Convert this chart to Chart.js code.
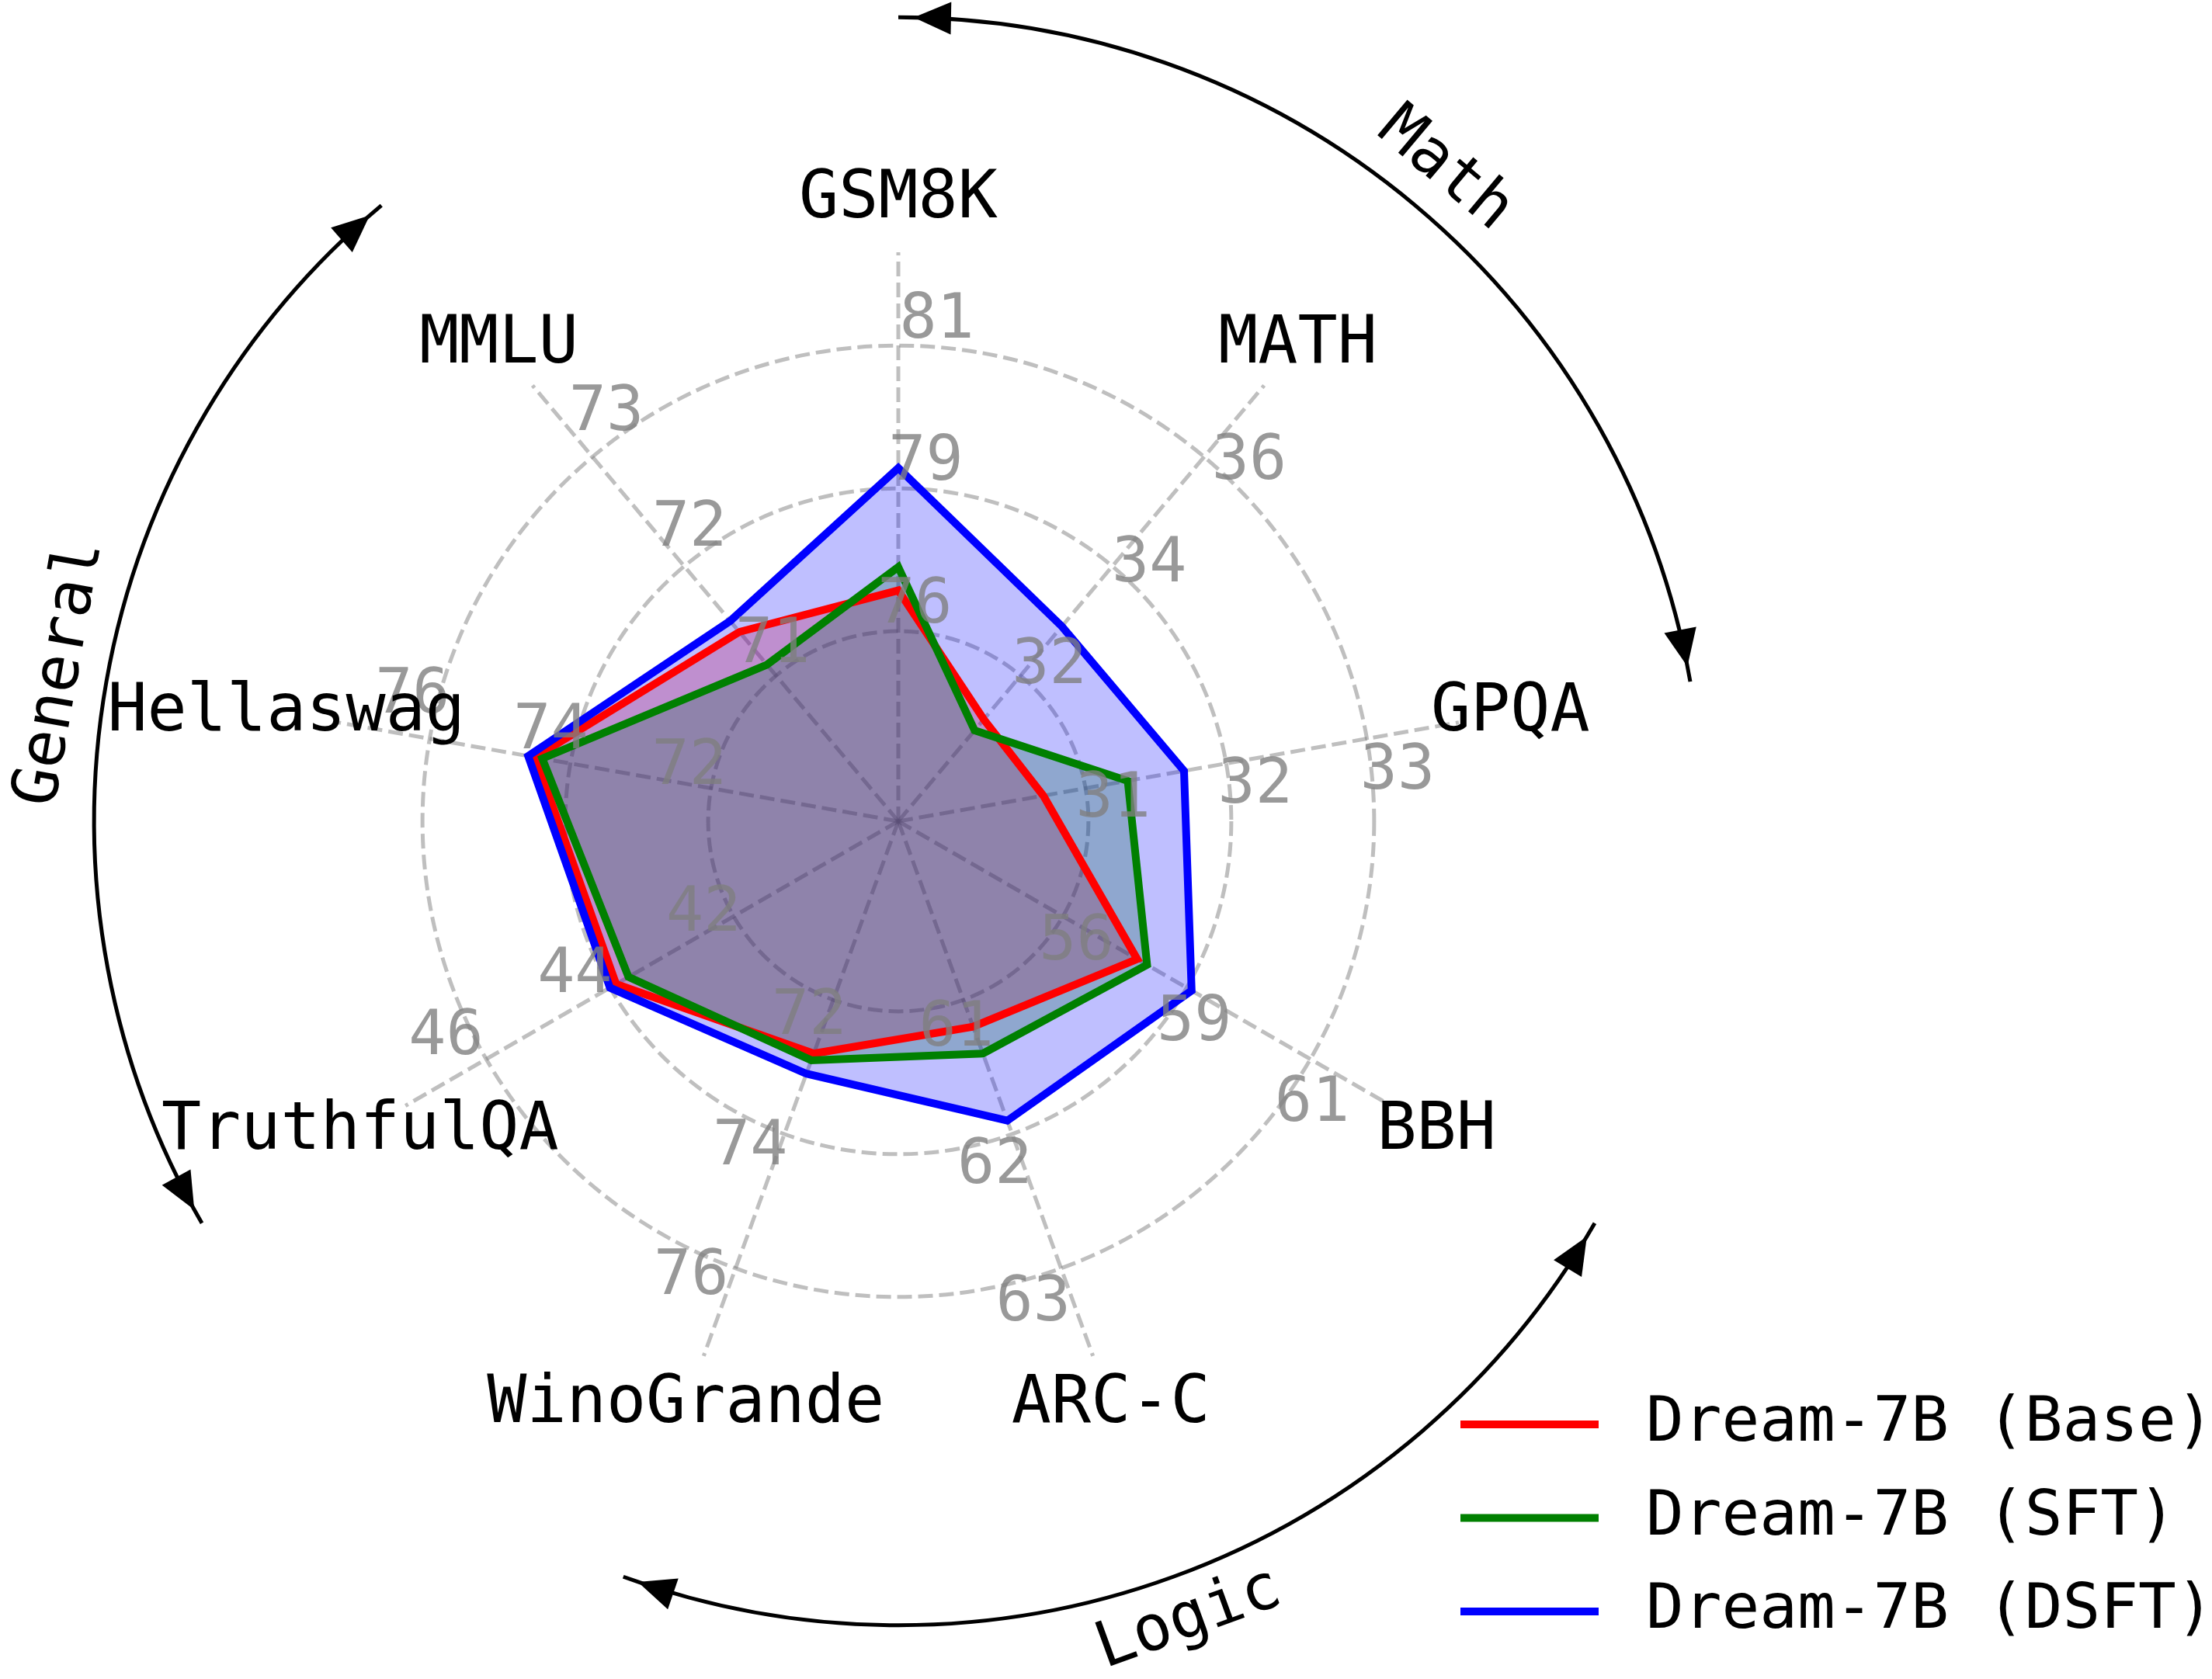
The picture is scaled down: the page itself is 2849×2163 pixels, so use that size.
<!DOCTYPE html>
<html>
<head>
<meta charset="utf-8">
<script src="https://cdn.jsdelivr.net/npm/chart.js@4"></script>
<style>
  html, body { margin: 0; padding: 0; background: #fff; }
  canvas { display: block; }
</style>
</head>
<body>
<canvas id="radar" width="2849" height="2163"></canvas>
<script>
// axes, clockwise from the top
const benchmarks = ['GSM8K', 'MATH', 'GPQA', 'BBH', 'ARC-C', 'WinoGrande', 'TruthfulQA', 'Hellaswag', 'MMLU'];

const baseScores = [76.9, 31.2, 30.7, 57.8, 61.2, 72.8, 43.9, 74.5, 71.4];
const sftScores  = [77.3, 31.0, 31.3, 58.0, 61.4, 72.9, 43.7, 74.4, 71.1];
const dsftScores = [79.0, 32.9, 31.7, 58.9, 61.9, 73.1, 44.0, 74.6, 71.5];

// every axis has its own scale: value on the first ring and step between rings
const ringStart = [76.2, 32, 31, 56.3, 61, 72, 42, 72, 71];
const ringStep  = [2.45, 2, 1, 2.5, 1, 2, 2, 2, 1];
const ringLabels = [
  ['76', '79', '81'],
  ['32', '34', '36'],
  ['31', '32', '33'],
  ['56', '59', '61'],
  ['61', '62', '63'],
  ['72', '74', '76'],
  ['42', '44', '46'],
  ['72', '74', '76'],
  ['71', '72', '73']
];

const seriesNames = ['Dream-7B (Base)', 'Dream-7B (SFT)', 'Dream-7B (DSFT)'];

// groups of axes marked by the outer arrows
const groupNames = ['Math', 'Logic', 'General'];
const groupMembers = [[0, 1, 2], [3, 4, 5], [6, 7, 8]];

// value -> ring units (ring k sits at k)
const toRing = (v, i) => 1 + (v - ringStart[i]) / ringStep[i];

const FONT = "'DejaVu Sans Mono', monospace";
Chart.defaults.font.family = FONT;

const deg = Math.PI / 180;

const overlay = {
    id: 'overlay',
    afterDatasetsDraw(chart) {
        const ctx = chart.ctx;
        const r = chart.scales.r;
        const cx = r.xCenter, cy = r.yCenter;
        ctx.save();
        ctx.textAlign = 'center';
        ctx.textBaseline = 'middle';

        // ring values along each axis
        ctx.font = '80px ' + FONT;
        ctx.fillStyle = 'rgba(128,128,128,0.8)';
        benchmarks.forEach((name, i) => {
            ringLabels[i].forEach((txt, k) => {
                const p = r.getPointPosition(i, r.getDistanceFromCenterForValue(k + 1.18), 4.4 * deg);
                ctx.fillText(txt, p.x, p.y);
            });
        });

        // axis names
        ctx.font = '85px ' + FONT;
        ctx.fillStyle = '#000';
        benchmarks.forEach((name, i) => {
            const p = r.getPointPosition(i, r.drawingArea * 1.092);
            ctx.fillText(name, p.x, p.y);
        });

        // group arcs with arrow heads
        const arcR = r.drawingArea * 1.413;
        const headLen = 48, headHalf = 21;
        const head = (a, sign) => {
            const tx = cx + arcR * Math.cos(a), ty = cy + arcR * Math.sin(a);
            const dx = -Math.sin(a) * sign, dy = Math.cos(a) * sign;
            const bx = tx - dx * headLen, by = ty - dy * headLen;
            ctx.beginPath();
            ctx.moveTo(tx, ty);
            ctx.lineTo(bx - dy * headHalf, by + dx * headHalf);
            ctx.lineTo(bx + dy * headHalf, by - dx * headHalf);
            ctx.closePath();
            ctx.fill();
        };
        ctx.strokeStyle = '#000';
        ctx.lineWidth = 5;
        groupNames.forEach((g, k) => {
            const m = groupMembers[k];
            const a0 = r.getIndexAngle(m[0]) - Math.PI / 2;
            const a1 = a0 + (m.length - 1) * (2 * Math.PI / benchmarks.length);
            ctx.beginPath();
            ctx.arc(cx, cy, arcR, a0, a1);
            ctx.stroke();
            head(a0 + 1.1 * deg, -1);
            head(a1 - 1.1 * deg, 1);

            const am = (a0 + a1) / 2;
            let rot = am + Math.PI / 2;
            while (rot > Math.PI) rot -= 2 * Math.PI;
            while (rot < -Math.PI) rot += 2 * Math.PI;
            if (rot > Math.PI / 2) rot -= Math.PI;
            if (rot < -Math.PI / 2) rot += Math.PI;
            const lr = r.drawingArea * 1.494;
            ctx.save();
            ctx.translate(cx + lr * Math.cos(am), cy + lr * Math.sin(am));
            ctx.rotate(rot);
            ctx.font = '82px ' + FONT;
            ctx.fillText(g, 0, 0);
            ctx.restore();
        });

        // legend
        ctx.font = '81px ' + FONT;
        ctx.textAlign = 'left';
        chart.data.datasets.forEach((ds, k) => {
            const y = 1835 + k * 120.5;
            ctx.strokeStyle = ds.borderColor;
            ctx.lineWidth = 10;
            ctx.beginPath();
            ctx.moveTo(1881, y);
            ctx.lineTo(2059, y);
            ctx.stroke();
            ctx.fillStyle = '#000';
            ctx.fillText(ds.label, 2120, y);
        });
        ctx.restore();
    }
};

new Chart(document.getElementById('radar'), {
    type: 'radar',
    data: {
        labels: benchmarks,
        datasets: [
            {
                label: seriesNames[0],
                data: baseScores.map(toRing),
                borderColor: 'rgb(255,0,0)',
                backgroundColor: 'rgba(255,0,0,0.25)',
                fill: 'start',
                order: 3
            },
            {
                label: seriesNames[1],
                data: sftScores.map(toRing),
                borderColor: 'rgb(0,128,0)',
                backgroundColor: 'rgba(0,128,0,0.25)',
                fill: 'start',
                order: 2
            },
            {
                label: seriesNames[2],
                data: dsftScores.map(toRing),
                borderColor: 'rgb(0,0,255)',
                backgroundColor: 'rgba(0,0,255,0.25)',
                fill: 'start',
                order: 1
            }
        ]
    },
    options: {
        responsive: false,
        animation: false,
        layout: {
            padding: { left: 424, right: 959, top: 325, bottom: 372 }
        },
        elements: {
            line: { borderWidth: 10, tension: 0, borderJoinStyle: 'miter' },
            point: { radius: 0, hoverRadius: 0 }
        },
        plugins: {
            legend: { display: false },
            tooltip: { enabled: false },
            // all fills first, lines on top of them
            filler: { drawTime: 'beforeDatasetsDraw' }
        },
        scales: {
            r: {
                min: -0.331,
                max: 3.653,
                afterBuildTicks: (scale) => {
                    scale.ticks = [1, 2, 3].map(v => ({ value: v }));
                },
                ticks: { display: false },
                pointLabels: { display: false },
                grid: {
                    circular: true,
                    color: 'rgba(128,128,128,0.5)',
                    lineWidth: 5
                },
                border: { dash: [19, 8] },
                angleLines: {
                    color: 'rgba(128,128,128,0.5)',
                    lineWidth: 5,
                    borderDash: [19, 8]
                }
            }
        }
    },
    plugins: [overlay]
});
</script>
</body>
</html>
